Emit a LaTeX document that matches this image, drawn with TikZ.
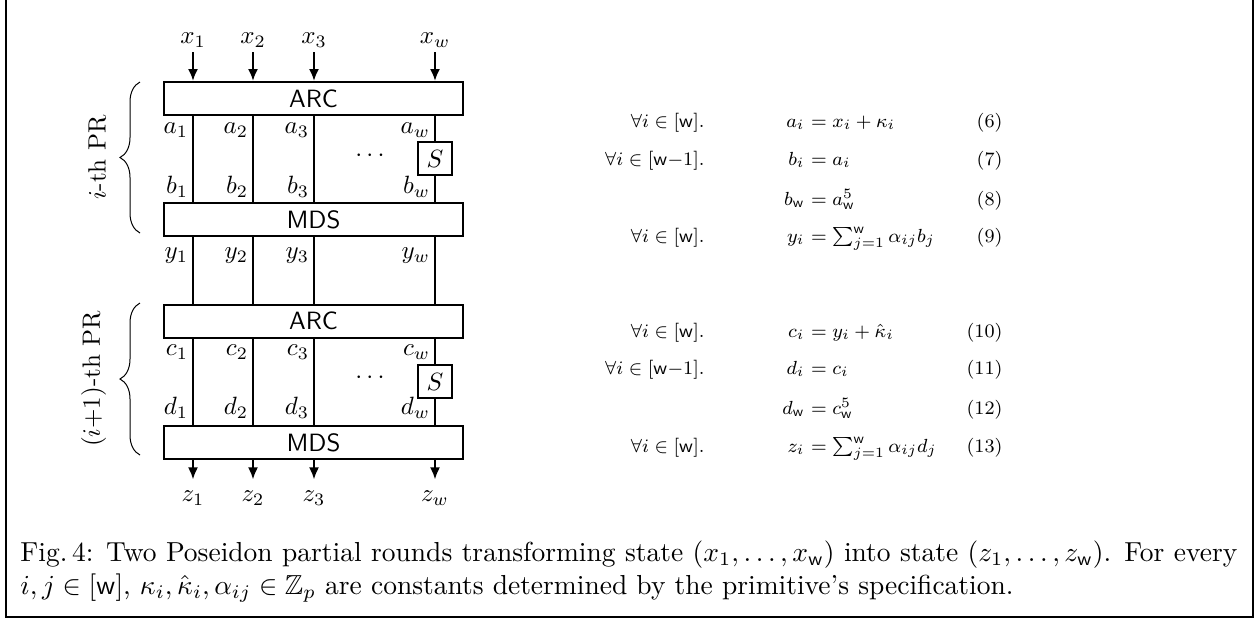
\documentclass[tikz,border=0pt]{standalone}
\usepackage{amsmath,amssymb}
\usetikzlibrary{decorations.pathreplacing,arrows.meta}
\tikzset{
  blk/.style={draw, thick, minimum width=119.6pt, minimum height=13.2pt, inner sep=0pt, font=\sffamily},
  sbox/.style={draw, thick, fill=white, minimum size=13.4pt, inner sep=0pt},
  wlbl/.style={anchor=east, inner sep=1pt},
  eqn/.style={inner sep=0pt},
  brc/.style={decorate, decoration={brace, amplitude=8pt}}
}
\newcommand{\eqsz}[1]{\scalebox{0.95}{\footnotesize #1}}
\begin{document}
\begin{tikzpicture}[x=0.4pt, y=-0.4pt]
                    \useasboundingbox (0,0) rectangle (1257,621);
                    % frame of the figure
                    \draw[thick] (6,0) -- (6,617) -- (1253,617) -- (1253,0);

                    % inputs
                    \node (x1) at (193,40) {$x_1$};
                    \node (x2) at (253,40) {$x_2$};
                    \node (x3) at (314,40) {$x_3$};
                    \node (xw) at (435,40) {$x_w$};

                    % first partial round
                    \node[blk] (arc1) at (313.5,98.5) {ARC};
                    \node[blk] (mds1) at (313.5,219.5) {MDS};
                    \node[sbox] (s1) at (435,158.5) {$S$};
                    \node (dots1) at (372,156) {$\cdots$};

                    % second partial round
                    \node[blk] (arc2) at (313.5,321) {ARC};
                    \node[blk] (mds2) at (313.5,442.5) {MDS};
                    \node[sbox] (s2) at (435,381.5) {$S$};
                    \node (dots2) at (372,378) {$\cdots$};

                    % outputs
                    \node (z1) at (193,498) {$z_1$};
                    \node (z2) at (253,498) {$z_2$};
                    \node (z3) at (314,498) {$z_3$};
                    \node (zw) at (435,498) {$z_w$};

                    \foreach \i in {1,2,3,w}{
                        \draw[thick,-{Latex[length=4.8pt,width=4pt]}] (x\i.south) ++(0,-4) -- (x\i |- arc1.north);
                        \draw[thick,-{Latex[length=4.8pt,width=4pt]}] (z\i |- mds2.south) -- ([yshift=1pt]z\i.north);
                        }
                    \foreach \i in {1,2,3}{
                        \draw[thick] (x\i |- arc1.south) -- (x\i |- mds1.north);
                        \draw[thick] (x\i |- mds1.south) -- (x\i |- arc2.north);
                        \draw[thick] (x\i |- arc2.south) -- (x\i |- mds2.north);
                        }
                    \draw[thick] (xw |- arc1.south) -- (s1.north);
                    \draw[thick] (s1.south) -- (xw |- mds1.north);
                    \draw[thick] (xw |- mds1.south) -- (xw |- arc2.north);
                    \draw[thick] (xw |- arc2.south) -- (s2.north);
                    \draw[thick] (s2.south) -- (xw |- mds2.north);

                    % wire labels
                    \foreach \i/\x in {1/193,2/253,3/314,w/435}{
                        \node[wlbl] (a\i) at (\x-2,130) {$a_\i$};
                        \node[wlbl] (b\i) at (\x-2,187) {$b_\i$};
                        \node[wlbl] (y\i) at (\x-2,256) {$y_\i$};
                        \node[wlbl] (c\i) at (\x-2,352) {$c_\i$};
                        \node[wlbl] (d\i) at (\x-2,408) {$d_\i$};
                        }

                    % braces
                    \draw[brc] (140,233) -- (140,82) node (pr1) [midway, left=10pt, rotate=90, anchor=south] {$i$-th PR};
                    \draw[brc] (140,455) -- (140,303) node (pr2) [midway, left=10pt, rotate=90, anchor=south] {$(i{+}1)$-th PR};

                    % equations
                    \node[eqn, anchor=base east] (q6) at (705,127) {\eqsz{$\forall i\in[\mathsf{w}]$.}};
                    \node[eqn, anchor=base east] (l6) at (805,127) {\eqsz{$a_i$}};
                    \node[eqn, anchor=base west] (r6) at (805,127) {\eqsz{${}=x_i+\kappa_i$}};
                    \node[eqn, anchor=base east] (n6) at (1003,127) {\eqsz{(6)}};

                    \node[eqn, anchor=base east] (q7) at (705,165) {\eqsz{$\forall i\in[\mathsf{w}{-}1]$.}};
                    \node[eqn, anchor=base east] (l7) at (805,165) {\eqsz{$b_i$}};
                    \node[eqn, anchor=base west] (r7) at (805,165) {\eqsz{${}=a_i$}};
                    \node[eqn, anchor=base east] (n7) at (1003,165) {\eqsz{(7)}};

                    \node[eqn, anchor=base east] (l8) at (805,205) {\eqsz{$b_{\mathsf{w}}$}};
                    \node[eqn, anchor=base west] (r8) at (805,205) {\eqsz{${}=a_{\mathsf{w}}^5$}};
                    \node[eqn, anchor=base east] (n8) at (1003,205) {\eqsz{(8)}};

                    \node[eqn, anchor=base east] (q9) at (705,242) {\eqsz{$\forall i\in[\mathsf{w}]$.}};
                    \node[eqn, anchor=base east] (l9) at (805,242) {\eqsz{$y_i$}};
                    \node[eqn, anchor=base west] (r9) at (805,242) {\eqsz{${}=\sum_{j=1}^{\mathsf{w}}\alpha_{ij}b_j$}};
                    \node[eqn, anchor=base east] (n9) at (1003,242) {\eqsz{(9)}};

                    \node[eqn, anchor=base east] (q10) at (705,337) {\eqsz{$\forall i\in[\mathsf{w}]$.}};
                    \node[eqn, anchor=base east] (l10) at (805,337) {\eqsz{$c_i$}};
                    \node[eqn, anchor=base west] (r10) at (805,337) {\eqsz{${}=y_i+\hat{\kappa}_i$}};
                    \node[eqn, anchor=base east] (n10) at (1003,337) {\eqsz{(10)}};

                    \node[eqn, anchor=base east] (q11) at (705,374) {\eqsz{$\forall i\in[\mathsf{w}{-}1]$.}};
                    \node[eqn, anchor=base east] (l11) at (805,374) {\eqsz{$d_i$}};
                    \node[eqn, anchor=base west] (r11) at (805,374) {\eqsz{${}=c_i$}};
                    \node[eqn, anchor=base east] (n11) at (1003,374) {\eqsz{(11)}};

                    \node[eqn, anchor=base east] (l12) at (805,414) {\eqsz{$d_{\mathsf{w}}$}};
                    \node[eqn, anchor=base west] (r12) at (805,414) {\eqsz{${}=c_{\mathsf{w}}^5$}};
                    \node[eqn, anchor=base east] (n12) at (1003,414) {\eqsz{(12)}};

                    \node[eqn, anchor=base east] (q13) at (705,452) {\eqsz{$\forall i\in[\mathsf{w}]$.}};
                    \node[eqn, anchor=base east] (l13) at (805,452) {\eqsz{$z_i$}};
                    \node[eqn, anchor=base west] (r13) at (805,452) {\eqsz{${}=\sum_{j=1}^{\mathsf{w}}\alpha_{ij}d_j$}};
                    \node[eqn, anchor=base east] (n13) at (1003,452) {\eqsz{(13)}};

                    % caption
                    \node[eqn, anchor=base west] (cap) at (20,561)
                        {\scalebox{1.1}{\parbox[t]{442.5pt}{Fig.\,4: Two Poseidon partial rounds transforming state $(x_1,\dots,x_{\mathsf{w}})$ into state $(z_1,\dots,z_{\mathsf{w}})$. For every $i,j\in[\mathsf{w}]$, $\kappa_i,\hat{\kappa}_i,\alpha_{ij}\in\mathbb{Z}_p$ are constants determined by the primitive's specification.}}};
                    \end{tikzpicture}
\end{document}
